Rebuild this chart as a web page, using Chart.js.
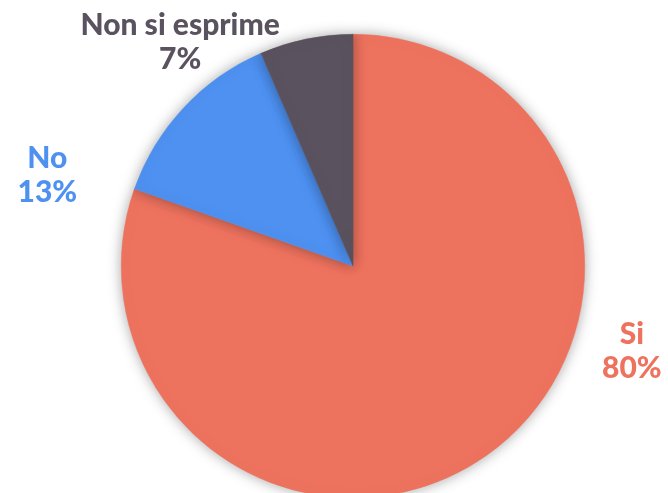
<!DOCTYPE html>
<html>
<head>
<meta charset="utf-8">
<script src="https://cdn.jsdelivr.net/npm/chart.js@4.4.1/dist/chart.umd.min.js"></script>
<style>
html,body{margin:0;padding:0;background:#fff;overflow:hidden;width:668px;height:493px;}
#wrap{position:absolute;left:0;top:0;width:668px;height:530px;}
</style>
</head>
<body>
<div id="wrap"><canvas id="c"></canvas></div>
<script>
const categories = ["Si", "No", "Non si esprime"];
const values = [80.4, 13.1, 6.5];
const percentLabels = ["80%", "13%", "7%"];
const colors = ["#EE735F", "#4E91F1", "#5A525E"];
// label anchor offsets relative to pie centre, in units of radius (styling only)
const labelOffsets = [[1.203, 0.369], [-1.319, -0.39], [-0.746, -0.963]];

const labelPlugin = {
  id: 'outerLabels',
  beforeDatasetsDraw(chart) {
    const ctx = chart.ctx;
    ctx.save();
    ctx.shadowColor = 'rgba(0,0,0,0.35)';
    ctx.shadowBlur = 14;
    ctx.shadowOffsetX = 0;
    ctx.shadowOffsetY = 0;
  },
  afterDatasetsDraw(chart) {
    const ctx = chart.ctx;
    ctx.restore();
    const meta = chart.getDatasetMeta(0);
    ctx.save();
    ctx.font = '900 30px Lato';
    ctx.textAlign = 'center';
    ctx.textBaseline = 'middle';
    meta.data.forEach((arc, i) => {
      const r = arc.outerRadius;
      const x = arc.x + labelOffsets[i][0] * r;
      const y = arc.y + labelOffsets[i][1] * r;
      ctx.fillStyle = colors[i];
      ctx.fillText(categories[i], x, y - 17);
      ctx.fillText(percentLabels[i], x, y + 17);
    });
    ctx.restore();
  }
};

new Chart(document.getElementById('c'), {
  type: 'pie',
  data: {
    labels: categories,
    datasets: [{
      data: values,
      backgroundColor: colors,
      borderColor: colors,
      borderWidth: 0.5,
      clip: false
    }]
  },
  options: {
    responsive: true,
    maintainAspectRatio: false,
    animation: false,
    layout: { padding: { top: 34, bottom: 32, left: 121, right: 83 } },
    plugins: { legend: { display: false }, tooltip: { enabled: false } }
  },
  plugins: [labelPlugin]
});
</script>
</body>
</html>
